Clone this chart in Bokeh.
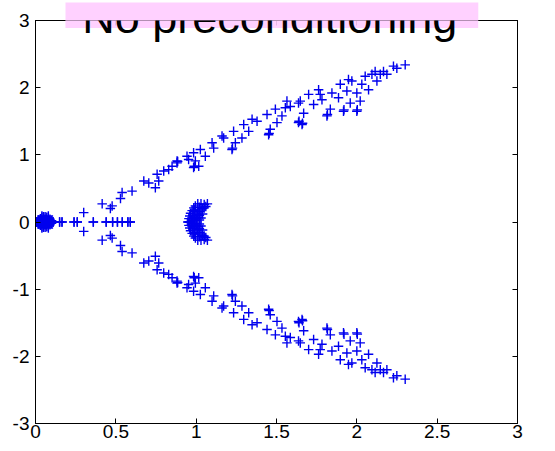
from bokeh.plotting import figure
from bokeh.models import Range1d, LinearAxis, FixedTicker, Label, Title
from bokeh.embed import file_html
from bokeh.resources import INLINE

# Eigenvalue spectrum (no preconditioning). Complex eigenvalues come in
# conjugate pairs, so only the upper half-plane is listed; each is drawn
# together with its conjugate.

# dense cluster next to the origin
origin_re = [0.01, 0.02, 0.03, 0.04, 0.05, 0.06, 0.07, 0.08, 0.09, 0.10,
             0.02, 0.04, 0.06, 0.08, 0.10, 0.03, 0.05, 0.07, 0.09, 0.06,
             0.005, 0.11, 0.04, 0.08]
origin_im = [0.00, 0.03, 0.05, 0.07, 0.08, 0.08, 0.07, 0.06, 0.04, 0.02,
             0.00, 0.02, 0.04, 0.02, 0.00, 0.01, 0.06, 0.03, 0.00, 0.00,
             0.00, 0.00, 0.09, 0.09]

# isolated real eigenvalues
axis_re = [0.15, 0.165, 0.24, 0.26, 0.36, 0.44, 0.48, 0.51, 0.54, 0.575, 0.59]
axis_im = [0.0] * len(axis_re)

# small arc near 1
cluster_re = [0.95, 0.955, 0.96, 0.965, 0.975, 0.985, 0.995, 1.01, 1.03, 1.05,
              0.98, 0.99, 1.00, 1.02, 1.04, 1.06, 0.97, 1.00, 1.03, 1.07,
              1.01, 0.99, 1.02, 0.96, 1.00, 1.01, 1.02, 1.03, 1.04, 0.99,
              1.05, 1.02, 0.98, 1.01]
cluster_im = [0.00, 0.05, 0.09, 0.13, 0.17, 0.21, 0.24, 0.27, 0.27, 0.26,
              0.02, 0.07, 0.12, 0.16, 0.20, 0.23, 0.03, 0.02, 0.06, 0.27,
              0.10, 0.18, 0.22, 0.00, 0.05, 0.15, 0.10, 0.18, 0.12, 0.16,
              0.21, 0.03, 0.10, 0.07]

# the two wings
branch_re = [0.30, 0.415, 0.466, 0.477, 0.529, 0.539, 0.601, 0.674, 0.705, 0.746,
             0.767, 0.757, 0.798, 0.829, 0.85, 0.881, 0.885, 0.881, 0.943, 0.953,
             0.995, 0.984, 0.988, 1.016, 0.984, 1.026, 1.057, 1.099, 1.109, 1.161,
             1.171, 1.223, 1.226, 1.244, 1.233, 1.285, 1.296, 1.327, 1.348, 1.379,
             1.451, 1.454, 1.441, 1.461, 1.493, 1.503, 1.534, 1.555, 1.565, 1.637,
             1.640, 1.637, 1.586, 1.659, 1.662, 1.669, 1.648, 1.70, 1.731, 1.762,
             1.772, 1.783, 1.814, 1.817, 1.835, 1.845, 1.886, 1.897, 1.917, 1.920,
             1.938, 1.948, 1.959, 1.969, 2.0, 2.0, 2.003, 2.021, 2.031, 2.052,
             2.073, 2.094, 2.114, 2.125, 2.146, 2.166, 2.187, 2.228, 2.249, 2.301]
branch_im = [0.14, 0.27, 0.20, 0.24, 0.35, 0.44, 0.46, 0.61, 0.58, 0.51,
             0.61, 0.71, 0.76, 0.78, 0.83, 0.88, 0.90, 0.91, 0.98, 0.93,
             0.91, 0.81, 0.83, 0.83, 1.03, 1.08, 0.98, 1.18, 1.10, 1.28,
             1.25, 1.08, 1.10, 1.18, 1.35, 1.25, 1.45, 1.35, 1.53, 1.50,
             1.30, 1.32, 1.60, 1.38, 1.68, 1.48, 1.58, 1.70, 1.80, 1.48,
             1.50, 1.77, 1.72, 1.45, 1.47, 1.62, 1.80, 1.90, 1.75, 1.97,
             1.90, 1.82, 1.58, 1.60, 1.68, 1.92, 1.85, 2.05, 1.65, 1.67,
             1.95, 2.12, 1.77, 2.10, 1.92, 1.65, 1.67, 1.80, 2.05, 2.17,
             1.97, 2.20, 2.24, 2.10, 2.20, 2.24, 2.20, 2.32, 2.29, 2.34]

x_ticks = [0, 0.5, 1, 1.5, 2, 2.5, 3]
y_ticks = [-3, -2, -1, 0, 1, 2, 3]
title_text = "No preconditioning"

re_vals = origin_re + axis_re + cluster_re + branch_re
im_vals = origin_im + axis_im + cluster_im + branch_im
all_re = re_vals + re_vals
all_im = im_vals + [-v for v in im_vals]

FONT = "Liberation Sans"
PINK = "#ffccff"

p = figure(width=555, height=451, output_backend="svg", toolbar_location=None,
           x_range=Range1d(0, 3), y_range=Range1d(-3, 3),
           min_border_left=35, min_border_right=38,
           min_border_top=19, min_border_bottom=28)
p.background_fill_color = "white"
p.border_fill_color = "white"
p.outline_line_color = "black"
p.outline_line_width = 1
p.xgrid.visible = False
p.ygrid.visible = False

for ax, ticks in ((p.xaxis[0], x_ticks), (p.yaxis[0], y_ticks)):
    ax.ticker = FixedTicker(ticks=ticks)
    ax.major_tick_in = 5
    ax.major_tick_out = 0
    ax.minor_tick_line_color = None
    ax.major_tick_line_color = "black"
    ax.axis_line_color = "black"
    ax.major_label_text_font = FONT
    ax.major_label_text_font_size = "19px"
    ax.major_label_text_color = "black"
    ax.major_label_overrides = {t: ("%g" % t) for t in ticks}
p.xaxis.major_label_standoff = 1
p.yaxis.major_label_standoff = 6

# mirrored tick marks on the top and right sides
for side, ticks in (("above", x_ticks), ("right", y_ticks)):
    ax = LinearAxis(ticker=FixedTicker(ticks=ticks))
    ax.major_tick_in = 5
    ax.major_tick_out = 0
    ax.minor_tick_line_color = None
    ax.major_tick_line_color = "black"
    ax.axis_line_color = "black"
    ax.major_label_text_font_size = "0px"
    ax.major_label_text_color = None
    ax.major_label_standoff = 0
    p.add_layout(ax, side)

p.scatter(all_re, all_im, marker="cross", size=9.5, line_width=1.4,
          line_color="#0000ee")

# pink title box: the part above the plot frame ...
p.add_layout(Title(text=" ", text_font=FONT, text_font_size="10px",
                   text_color=PINK, align="left", offset=30, standoff=0,
                   background_fill_color=PINK, background_fill_alpha=0.9,
                   padding=dict(left=0, right=410, top=4, bottom=3)),
             "above")
# ... and the part that overlaps the frame
p.add_layout(Label(x=1.4708, y=3.217, text=".", text_font=FONT,
                   text_font_size="10px", text_color=PINK,
                   text_align="center", text_baseline="middle",
                   background_fill_color=PINK, background_fill_alpha=0.9,
                   padding=dict(left=205, right=205, top=18, bottom=18)))
p.add_layout(Label(x=1.458, y=3.046, text=title_text, text_font=FONT,
                   text_font_size="45px", text_color="black",
                   text_align="center", text_baseline="alphabetic"))

open("out.html", "w").write(file_html(p, INLINE))
